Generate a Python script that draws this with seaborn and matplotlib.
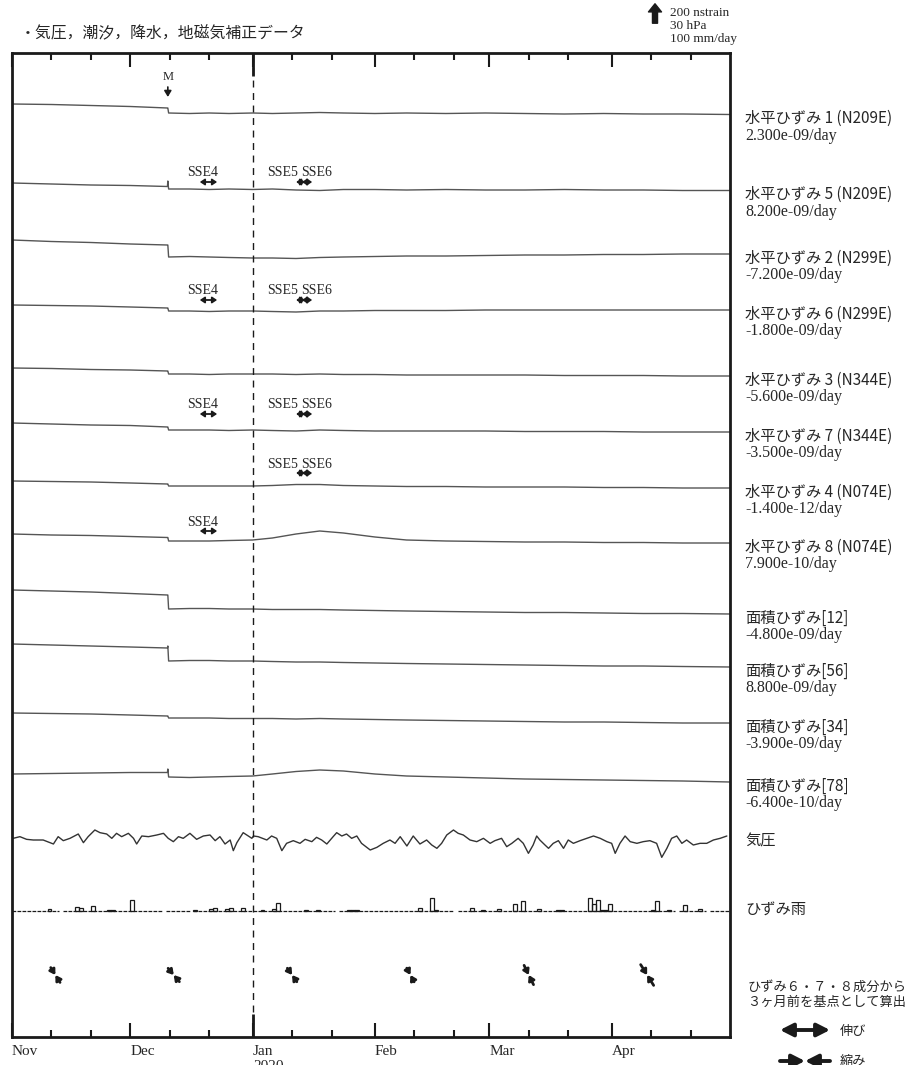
import numpy as np
import pandas as pd
import matplotlib
matplotlib.use("Agg")
import matplotlib.pyplot as plt
import matplotlib.dates as mdates
import matplotlib.transforms as mtransforms
from matplotlib.patches import FancyArrowPatch
import seaborn as sns

# ---------------- data ----------------
start_date = "2019-11-01"
n_days = 182

month_labels = ["Nov", "Dec", "Jan", "Feb", "Mar", "Apr"]
year_label = "2020"
title = "・気圧，潮汐，降水，地磁気補正データ"
scale_lines = ["200 nstrain", "30 hPa", "100 mm/day"]
scale_nstrain = 200
scale_hpa = 30
scale_mm = 100

# strain traces (nstrain, relative to first sample; up = positive)
grid_days = [0, 10, 20, 30, 39.4, 39.5, 39.7, 45, 50, 55, 61, 66, 72, 78, 84,
             92, 100, 110, 120, 130, 140, 150, 160, 170, 182]
h1 = [0, -4, -12, -20, -32, -32, -72, -76, -72, -76, -72, -76, -72, -68, -72, -76, -72, -76, -72, -76, -80, -76, -80, -80, -84]
h5 = [0, -8, -16, -20, -28, 16, -48, -48, -52, -48, -52, -48, -56, -60, -52, -52, -56, -52, -56, -56, -52, -56, -56, -60, -60]
h2 = [0, -12, -20, -32, -40, -40, -136, -132, -136, -140, -144, -144, -148, -140, -136, -132, -128, -128, -124, -120, -120, -116, -116, -112, -112]
h6 = [0, -4, -8, -16, -24, -24, -48, -48, -52, -48, -48, -52, -56, -48, -48, -44, -44, -44, -40, -40, -40, -40, -40, -40, -40]
h3 = [0, -4, -12, -16, -24, -24, -48, -48, -52, -48, -48, -48, -52, -48, -52, -52, -56, -56, -56, -56, -60, -60, -60, -64, -64]
h7 = [0, -8, -16, -20, -32, -32, -56, -56, -56, -60, -56, -60, -64, -56, -60, -64, -64, -64, -64, -68, -68, -68, -72, -72, -72]
h4 = [0, -4, -8, -16, -24, -24, -40, -40, -40, -40, -40, -36, -28, -28, -36, -40, -44, -44, -48, -48, -48, -52, -52, -56, -56]
h8 = [0, -8, -12, -20, -28, -28, -56, -56, -56, -52, -48, -32, 0, 24, 8, -24, -48, -56, -60, -64, -64, -68, -68, -72, -72]
a12 = [0, -8, -16, -28, -40, -40, -152, -148, -148, -152, -152, -156, -156, -156, -160, -164, -168, -172, -176, -180, -180, -184, -188, -188, -192]
a56 = [0, -8, -16, -24, -32, -16, -136, -132, -132, -136, -136, -140, -144, -144, -148, -152, -156, -160, -164, -168, -172, -176, -176, -180, -184]
a34 = [0, -4, -8, -16, -24, -24, -40, -40, -40, -44, -44, -44, -48, -44, -48, -52, -56, -60, -64, -68, -72, -72, -76, -80, -80]
a78 = [0, 4, 8, 12, 12, 40, -24, -28, -24, -20, -16, 0, 20, 32, 24, 0, -16, -24, -32, -40, -44, -48, -52, -56, -64]
strain_series = [h1, h5, h2, h6, h3, h7, h4, h8, a12, a56, a34, a78]
strain_names = ["水平ひずみ 1 (N209E)", "水平ひずみ 5 (N209E)", "水平ひずみ 2 (N299E)",
                "水平ひずみ 6 (N299E)", "水平ひずみ 3 (N344E)", "水平ひずみ 7 (N344E)",
                "水平ひずみ 4 (N074E)", "水平ひずみ 8 (N074E)", "面積ひずみ[12]",
                "面積ひずみ[56]", "面積ひずみ[34]", "面積ひずみ[78]"]
strain_rates = ["2.300e-09/day", "8.200e-09/day", "-7.200e-09/day", "-1.800e-09/day",
                "-5.600e-09/day", "-3.500e-09/day", "-1.400e-12/day", "7.900e-10/day",
                "-4.800e-09/day", "8.800e-09/day", "-3.900e-09/day", "-6.400e-10/day"]

# air pressure (hPa)
pres_days = [0.3, 2.0, 3.7, 5.4, 7.9, 10.5, 11.7, 13.0, 14.7, 16.8, 18.1, 19.3, 21.0, 22.3, 24.0, 25.3,
             26.5, 27.8, 29.5, 30.8, 31.6, 32.9, 34.6, 36.7, 38.4, 39.6, 40.9, 42.2, 43.4, 45.1, 46.8,
             48.5, 50.2, 51.5, 52.7, 54.0, 55.3, 56.1, 57.0, 58.6, 59.9, 60.8, 61.2, 62.4, 64.6, 65.8,
             67.1, 68.4, 69.6, 71.3, 73.0, 74.3, 76.0, 77.2, 78.5, 79.8, 81.4, 82.3, 83.6, 84.8, 86.1,
             87.4, 88.6, 90.8, 92.5, 94.1, 95.8, 97.1, 98.4, 100.1, 101.7, 103.4, 105.1, 106.4, 107.7,
             108.9, 110.2, 111.9, 113.1, 114.4, 116.1, 117.8, 119.5, 121.2, 122.4, 124.1, 125.4, 126.7,
             128.3, 129.6, 130.9, 132.1, 133.0, 133.8, 135.1, 136.0, 137.2, 138.5, 139.8, 141.0, 142.3,
             144.0, 145.7, 147.4, 149.1, 150.8, 152.0, 152.9, 154.1, 155.4, 156.7, 158.4, 160.0, 161.7,
             163.4, 164.7, 166.0, 167.2, 168.5, 169.8, 171.0, 172.7, 174.4, 176.1, 177.8, 179.5, 181.2]
pres_hpa = [1016.2, 1018.2, 1015.0, 1014.2, 1014.2, 1009.4, 1018.2, 1013.4, 1016.2, 1021.4, 1011.0,
            1018.2, 1026.2, 1023.0, 1021.4, 1016.2, 1022.2, 1018.2, 1022.2, 1016.2, 1009.4, 1019.0,
            1018.2, 1020.2, 1022.2, 1016.2, 1012.2, 1018.2, 1016.2, 1022.2, 1015.0, 1019.0, 1020.2,
            1013.4, 1018.2, 1009.4, 1014.2, 1001.4, 1011.0, 1023.0, 1019.0, 1016.2, 1019.0, 1018.2,
            1014.2, 1019.0, 1016.2, 1001.4, 1010.2, 1013.4, 1010.2, 1015.0, 1012.2, 1017.4, 1014.2,
            1009.4, 1018.2, 1023.0, 1019.0, 1021.4, 1016.2, 1019.0, 1010.2, 1002.2, 1005.4, 1010.2,
            1014.2, 1010.2, 1018.2, 1007.0, 1019.0, 1009.4, 1014.2, 1008.2, 1004.2, 1010.2, 1020.2,
            1026.2, 1022.2, 1020.2, 1014.2, 1012.2, 1016.2, 1010.2, 1013.4, 1016.2, 1006.2, 1010.2,
            1016.2, 1010.2, 998.2, 1008.2, 1019.0, 1014.2, 1008.2, 1004.2, 1010.2, 1013.4, 1004.2,
            1014.2, 1010.2, 1013.4, 1016.2, 1019.0, 1016.2, 1012.2, 1010.2, 998.2, 1010.2, 1019.0,
            1012.2, 1010.2, 1012.2, 1013.4, 1010.2, 993.4, 1004.2, 1016.2, 1019.0, 1010.2, 1014.2,
            1008.2, 1010.2, 1010.2, 1014.2, 1016.2, 1019.0]
pres_name = "気圧"

# rain (mm/day)
rain_days = [9, 16, 17, 20, 24, 25, 30, 46, 50, 51, 54, 55, 58, 63, 66, 67, 74, 77, 85, 86, 87,
             103, 106, 107, 116, 119, 123, 127, 129, 133, 138, 139, 146, 147, 148, 149, 150, 151,
             162, 163, 166, 170, 174]
rain_mm = [8, 16, 12, 20, 2, 2, 44, 3, 8, 12, 8, 12, 12, 2, 8, 32, 2, 2, 2, 2, 2,
           12, 52, 2, 12, 3, 8, 28, 40, 8, 3, 3, 52, 28, 44, 2, 2, 28,
           4, 40, 3, 24, 5]
rain_missing_days = [12, 38, 45, 82, 112, 168, 176]
rain_name = "ひずみ雨"

# slow slip events
sse_names = ["SSE4", "SSE5", "SSE6"]
sse_start = [47.6, 72.0, 73.5]
sse_end = [52.0, 74.3, 76.1]
sse_row_trace = [1, 3, 5, 6, 7]
sse_row_events = [[0, 1, 2], [0, 1, 2], [0, 1, 2], [1, 2], [0]]

quake_day = 39.5
quake_label = "M"

# principal compression (from strain 6,7,8, 3-month base)
ps_days = [11, 41, 71, 101, 131, 161]
ps_comp_nstrain = [140, 140, 132, 124, 172, 196]
ps_azimuth_deg = [148, 140, 145, 152, 154, 148]
ps_note = ["ひずみ６・７・８成分から", "３ヶ月前を基点として算出"]
legend_ext = "伸び"
legend_comp = "縮み"

# ---------------- layout ----------------
W, H = 908, 1065
AX_L, AX_R, AX_T, AX_B = 12, 730, 53, 1037
SCALE_PX = 25
px_per_nstrain = SCALE_PX / scale_nstrain
px_per_hpa = SCALE_PX / scale_hpa
px_per_mm = SCALE_PX / scale_mm
trace_offsets_px = [104, 183, 240, 305, 368, 423, 481, 534, 590, 644, 713, 774]
pres_ref_hpa = 1013.0
pres_offset_px = 841
rain_base_px = 910.5
ps_center_px = 975
sse_arrow_px = [182, 300, 414, 473, 531]
sse_text_px = [172, 291, 405, 464, 523]
sse_align = ["right_end", "right_start", "left_start"]

CJK = ["Noto Sans CJK JP", "DejaVu Sans"]
SERIF = ["Liberation Serif", "DejaVu Serif"]

t0 = mdates.date2num(pd.Timestamp(start_date))


def X(d):
    return t0 + np.asarray(d, dtype=float)


def Y(ypix):
    return AX_B - np.asarray(ypix, dtype=float)


def fy(ypix):
    return H - ypix


# ---------------- figure ----------------
sns.set_theme(style="white")
plt.rcParams["font.family"] = SERIF + ["Noto Sans CJK JP"]

fig = plt.figure(figsize=(W / 100, H / 100), dpi=100)
ax = fig.add_axes([AX_L / W, (H - AX_B) / H, (AX_R - AX_L) / W, (AX_B - AX_T) / H])

rows = []
for i, (vals, off) in enumerate(zip(strain_series, trace_offsets_px)):
    for d, v in zip(grid_days, vals):
        rows.append({"x": float(X(d)), "y": float(Y(off)) + v * px_per_nstrain, "trace": i})
df = pd.DataFrame(rows)
sns.lineplot(data=df, x="x", y="y", units="trace", estimator=None, sort=False,
             color="#555555", lw=1.0, ax=ax, legend=False)

dfp = pd.DataFrame({"x": X(pres_days),
                    "y": Y(pres_offset_px) + (np.array(pres_hpa) - pres_ref_hpa) * px_per_hpa})
sns.lineplot(data=dfp, x="x", y="y", estimator=None, sort=False, color="#333333", lw=1.0,
             ax=ax, legend=False)

# rain baseline with gaps
seg_start = 0
for g in sorted(rain_missing_days) + [None]:
    seg_end = g if g is not None else n_days
    ax.plot(X([seg_start, seg_end]), [Y(rain_base_px)] * 2, color="k", lw=0.9,
            ls=(0, (3, 1)))
    if g is not None:
        seg_start = g + 1
ax.bar(X(rain_days), np.array(rain_mm) * px_per_mm, bottom=float(Y(rain_base_px)), width=1.0,
       align="edge", fill=False, edgecolor="k", linewidth=0.9)

# axes style
ax.set_xlim(X(0), X(n_days))
ax.set_ylim(0, AX_B - AX_T)
ax.set_xlabel("")
ax.set_ylabel("")
ax.set_yticks([])
for s in ax.spines.values():
    s.set_visible(True)
    s.set_color("k")
    s.set_linewidth(2.0)

month_starts = pd.date_range("2019-11-01", "2020-04-01", freq="MS")
minor = [m + pd.Timedelta(days=k) for m in month_starts for k in (10, 20)]
ax.set_xticks(mdates.date2num(month_starts))
ax.set_xticklabels(month_labels, ha="left", fontsize=11, family=SERIF)
ax.set_xticks(mdates.date2num(minor), minor=True)
ax.tick_params(axis="x", which="both", direction="in", top=True, bottom=True,
               color="k", width=1.5, pad=6)
ax.tick_params(axis="x", which="major", length=10)
ax.tick_params(axis="x", which="minor", length=5)

jan = mdates.date2num(pd.Timestamp("2020-01-01"))
ax.plot([jan, jan], [0, 23], color="k", lw=2, solid_capstyle="butt")
ax.plot([jan, jan], [AX_B - AX_T - 23, AX_B - AX_T], color="k", lw=2, solid_capstyle="butt")
ax.axvline(jan, color="k", lw=1.0, ls=(0, (5, 4)))
fig.text(((jan - t0) * (AX_R - AX_L) / n_days + AX_L + 1) / W, fy(1060) / H, year_label,
         ha="left", va="top", fontsize=11, family=SERIF)

# right-side labels
lab_tr = mtransforms.blended_transform_factory(ax.transAxes, ax.transData)
lab_x = (745 - AX_L) / (AX_R - AX_L)
for i in range(len(strain_series)):
    yend = df[df.trace == i].y.iloc[-1]
    ax.text(lab_x, yend - 4, strain_names[i], transform=lab_tr, ha="left", va="center",
            fontsize=11, family=CJK, clip_on=False)
    ax.text(lab_x, yend - 21, strain_rates[i], transform=lab_tr, ha="left", va="center",
            fontsize=11.5, family=SERIF, clip_on=False)
ax.text(lab_x, float(Y(pres_offset_px)), pres_name, transform=lab_tr, ha="left", va="center",
        fontsize=11, family=CJK, clip_on=False)
ax.text(lab_x, float(Y(rain_base_px)), rain_name, transform=lab_tr, ha="left", va="center",
        fontsize=11, family=CJK, clip_on=False)

# SSE annotations
for row, (tr, evs) in enumerate(zip(sse_row_trace, sse_row_events)):
    ya = float(Y(sse_arrow_px[row]))
    yt = float(Y(sse_text_px[row]))
    for e in evs:
        ax.annotate("", xy=(X(sse_end[e]), ya), xytext=(X(sse_start[e]), ya),
                    arrowprops=dict(arrowstyle="<|-|>,head_length=0.45,head_width=0.3",
                                    lw=1.3, color="k", mutation_scale=6,
                                    shrinkA=0, shrinkB=0))
        mode = sse_align[e]
        if mode == "right_end":
            ax.text(X(sse_end[e]) + 0.3, yt, sse_names[e], ha="right", va="center",
                    fontsize=10, family=SERIF)
        elif mode == "right_start":
            ax.text(X(sse_start[e]) + 0.4, yt, sse_names[e], ha="right", va="center",
                    fontsize=10, family=SERIF)
        else:
            ax.text(X(sse_start[e]) - 0.3, yt, sse_names[e], ha="left", va="center",
                    fontsize=10, family=SERIF)

# earthquake marker
ax.text(X(quake_day), float(Y(77)), quake_label, ha="center", va="center", fontsize=9,
        family=SERIF)
ax.annotate("", xy=(X(quake_day), float(Y(97))), xytext=(X(quake_day), float(Y(87))),
            arrowprops=dict(arrowstyle="-|>,head_length=0.5,head_width=0.3", lw=1.2,
                            color="k", mutation_scale=7, shrinkA=0, shrinkB=0))

# principal compression arrows (drawn in pixel space so the angle is exact)
for d, mag, az in zip(ps_days, ps_comp_nstrain, ps_azimuth_deg):
    cx, cy = ax.transData.transform((X(d), float(Y(ps_center_px))))
    half = mag * px_per_nstrain / 2
    ang = np.radians(90 - az)
    dx, dy = half * np.cos(ang), half * np.sin(ang)
    for sgn in (1, -1):
        fig.patches.append(FancyArrowPatch(
            (cx + sgn * dx, cy + sgn * dy), (cx, cy), transform=None,
            arrowstyle="-|>,head_length=0.45,head_width=0.28", mutation_scale=6.5,
            lw=2.0, color="k", shrinkA=0, shrinkB=0))

# title
fig.text(20 / W, fy(33.5) / H, title, ha="left", va="center", fontsize=11.4, family=CJK)

# scale arrow (top right)
fig.patches.append(FancyArrowPatch(
    (655, fy(1 + SCALE_PX)), (655, fy(1)), transform=None,
    arrowstyle="simple,head_length=0.45,head_width=0.72,tail_width=0.28",
    mutation_scale=13, color="k"))
for k, s in enumerate(scale_lines):
    fig.text(670 / W, fy(12.5 + 13.3 * k) / H, s, ha="left", va="center", fontsize=9.5,
             family=SERIF)

# bottom-right notes and legend
fig.text(827 / W, fy(987) / H, ps_note[0], ha="center", va="center", fontsize=9.5, family=CJK)
fig.text(827 / W, fy(1002) / H, ps_note[1], ha="center", va="center", fontsize=9.5, family=CJK)
fig.patches.append(FancyArrowPatch(
    (780, fy(1030)), (830, fy(1030)), transform=None,
    arrowstyle="<|-|>,head_length=0.55,head_width=0.28", mutation_scale=14, lw=2.8,
    color="k", shrinkA=0, shrinkB=0))
fig.text(840 / W, fy(1031) / H, legend_ext, ha="left", va="center", fontsize=9.5, family=CJK)
for xs in (780, 830):
    fig.patches.append(FancyArrowPatch(
        (xs, fy(1061)), (805, fy(1061)), transform=None,
        arrowstyle="-|>,head_length=0.55,head_width=0.28", mutation_scale=14, lw=2.8,
        color="k", shrinkA=0, shrinkB=0))
fig.text(840 / W, fy(1061) / H, legend_comp, ha="left", va="center", fontsize=9.5, family=CJK)

fig.savefig("out.png", dpi=100)
